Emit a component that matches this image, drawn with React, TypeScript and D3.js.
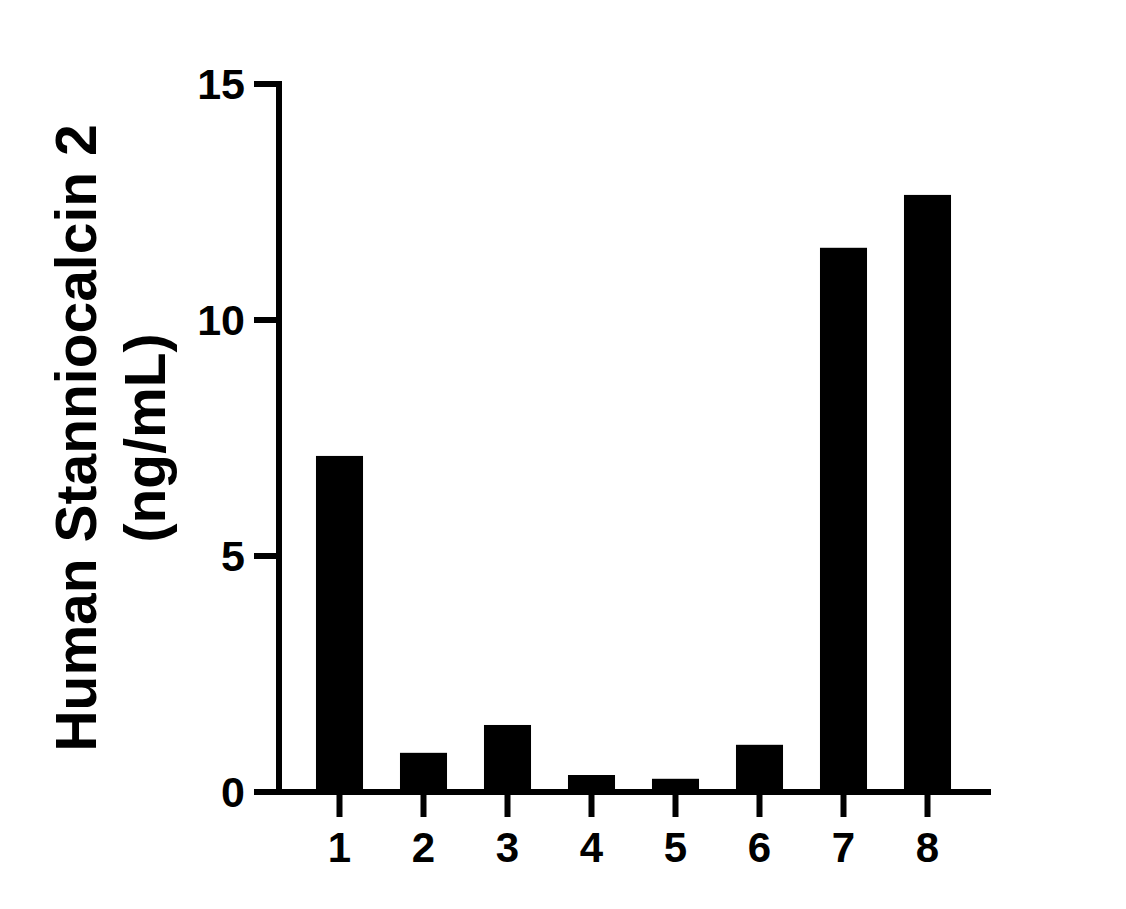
import React from "react";
import * as d3 from "d3";

const categories = ["1", "2", "3", "4", "5", "6", "7", "8"];
const values = [7.12, 0.83, 1.42, 0.36, 0.28, 1.0, 11.53, 12.65];
const yTicks = [0, 5, 10, 15];
const yTitleLines = ["Human Stanniocalcin 2", "(ng/mL)"];

const W = 1126;
const H = 909;
const axisX = 279;
const axisY = 792;
const topY = 84;
const rightX = 991;
const font = "'Liberation Sans', Arial, sans-serif";

export default function App() {
  const y = d3.scaleLinear().domain([0, 15]).range([axisY, topY]);
  const x = d3
    .scaleBand<string>()
    .domain(categories)
    .range([297.5, 969.5])
    .paddingInner(0.44)
    .paddingOuter(0.22);
  const sw = 6;
  return (
    <svg
      width={W}
      height={H}
      style={{ position: "absolute", left: 0, top: 0, background: "#fff" }}
    >
      <rect x={0} y={0} width={W} height={H} fill="#fff" />
      {categories.map((c, i) => (
        <rect
          key={c}
          x={x(c)}
          y={y(values[i])}
          width={x.bandwidth()}
          height={y(0) - y(values[i])}
          fill="#000"
        />
      ))}
      {/* y axis */}
      <line x1={axisX} x2={axisX} y1={topY - sw / 2} y2={axisY + sw / 2} stroke="#000" strokeWidth={sw} />
      {yTicks.map((t) => (
        <g key={t}>
          <line x1={254} x2={axisX} y1={y(t)} y2={y(t)} stroke="#000" strokeWidth={sw} />
          <text
            x={245}
            y={y(t)}
            dy="0.36em"
            textAnchor="end"
            fontFamily={font}
            fontWeight="bold"
            fontSize={43}
            fill="#000"
          >
            {t}
          </text>
        </g>
      ))}
      {/* x axis */}
      <line x1={axisX} x2={rightX} y1={axisY} y2={axisY} stroke="#000" strokeWidth={sw} />
      {categories.map((c) => {
        const cx = (x(c) as number) + x.bandwidth() / 2;
        return (
          <g key={c}>
            <line x1={cx} x2={cx} y1={axisY} y2={817} stroke="#000" strokeWidth={sw} />
            <text
              x={cx}
              y={862}
              textAnchor="middle"
              fontFamily={font}
              fontWeight="bold"
              fontSize={42}
              fill="#000"
            >
              {c}
            </text>
          </g>
        );
      })}
      {/* y title */}
      {yTitleLines.map((l, i) => (
        <text
          key={l}
          transform={`translate(${96 + i * 69},${(topY + axisY) / 2}) rotate(-90)`}
          textAnchor="middle"
          fontFamily={font}
          fontWeight="bold"
          fontSize={57}
          fill="#000"
        >
          {l}
        </text>
      ))}
    </svg>
  );
}
